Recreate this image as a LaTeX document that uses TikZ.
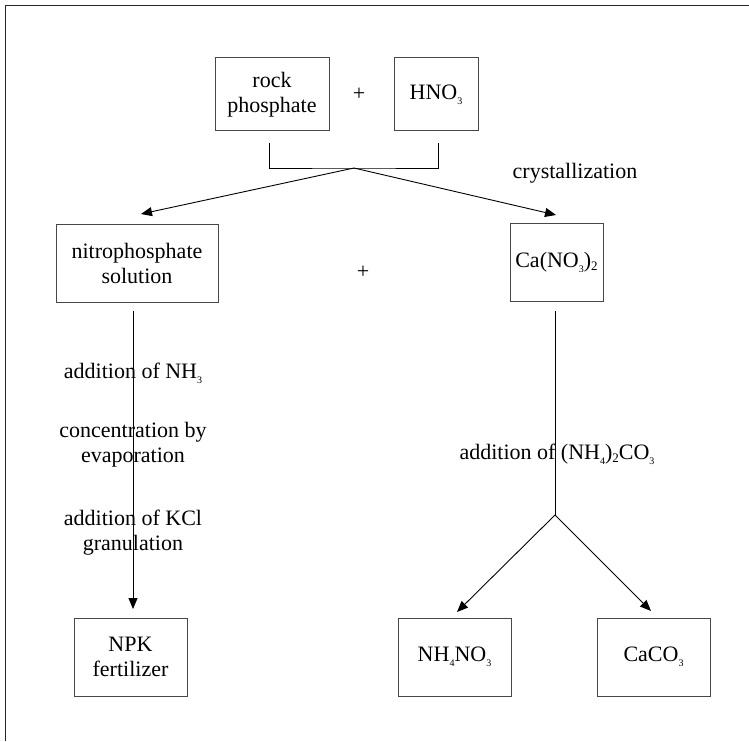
\documentclass[tikz,border=0pt]{standalone}
\usepackage{fontspec}
\setmainfont{Liberation Serif}
\usetikzlibrary{arrows.meta}
\newcommand{\csub}[1]{\raisebox{-0.5ex}{\fontsize{10}{10}\selectfont #1}}
\newcommand{\csubb}[1]{\raisebox{-0.35ex}{\fontsize{13}{13}\selectfont #1}}
\begin{document}
\begin{tikzpicture}[x=1pt,y=-1pt,
  every node/.style={font=\fontsize{22}{25}\selectfont, inner sep=0pt, align=center},
  box/.style={draw=black!72, line width=1pt, rectangle},
  conn/.style={draw=black, line width=0.9pt},
  arr/.style={conn, -{Triangle[length=11pt,width=9pt]}}]
\useasboundingbox (0,0) rectangle (749,741);
% frame
\draw[line width=1.6pt, black!85] (5.5,741) -- (5.5,5.5) -- (749,5.5);
% boxes
\node[box, minimum width=114pt, minimum height=73pt] (rp) at (272,94.5) {rock\\phosphate};
\node[box, minimum width=84pt, minimum height=73pt] (hno) at (436,94.5) {HNO\csub{3}};
\node (plus1) at (359,94) {+};
\node[box, minimum width=162pt, minimum height=78pt] (nps) at (137,263) {nitrophosphate\\solution};
\node[box, minimum width=93pt, minimum height=78pt] (cano) at (556.5,262) {Ca(NO\csub{3})\csubb{2}};
\node (plus2) at (363,272) {+};
\node (cry) at (575,173) {crystallization};
\node[box, minimum width=113pt, minimum height=78pt] (npk) at (130.5,657) {NPK\\fertilizer};
\node[box, minimum width=113pt, minimum height=78pt] (nh4) at (454.5,657) {NH\csub{4}NO\csub{3}};
\node[box, minimum width=113pt, minimum height=78pt] (caco) at (653.5,657) {CaCO\csub{3}};
% bracket and top arrows
\coordinate (bl) at (269,143);
\coordinate (br) at (438,143);
\coordinate (m) at (354,168);
\coordinate (tl) at (141,214);
\coordinate (tr) at (556,215);
\draw[conn] (bl) |- (m) -| (br);
\draw[arr] (m) -- (tl);
\draw[arr] (m) -- (tr);
% left column
\coordinate (ls) at (133,311);
\coordinate (le) at (133,609);
\node (l1) at (133,373) {addition of NH\csub{3}};
\node (l2) at (133,445) {concentration by\\evaporation};
\node (l3) at (133,533) {addition of KCl\\granulation};
\draw[arr] (ls) -- (le);
% right column
\coordinate (rs) at (555,311);
\coordinate (rj) at (555,515);
\coordinate (rl) at (457,612);
\coordinate (rr) at (651,611);
\node (r1) at (557,454) {addition of (NH\csub{4})\csubb{2}CO\csub{3}};
\draw[conn] (rs) -- (rj);
\draw[arr] (rj) -- (rl);
\draw[arr] (rj) -- (rr);
\end{tikzpicture}
\end{document}
